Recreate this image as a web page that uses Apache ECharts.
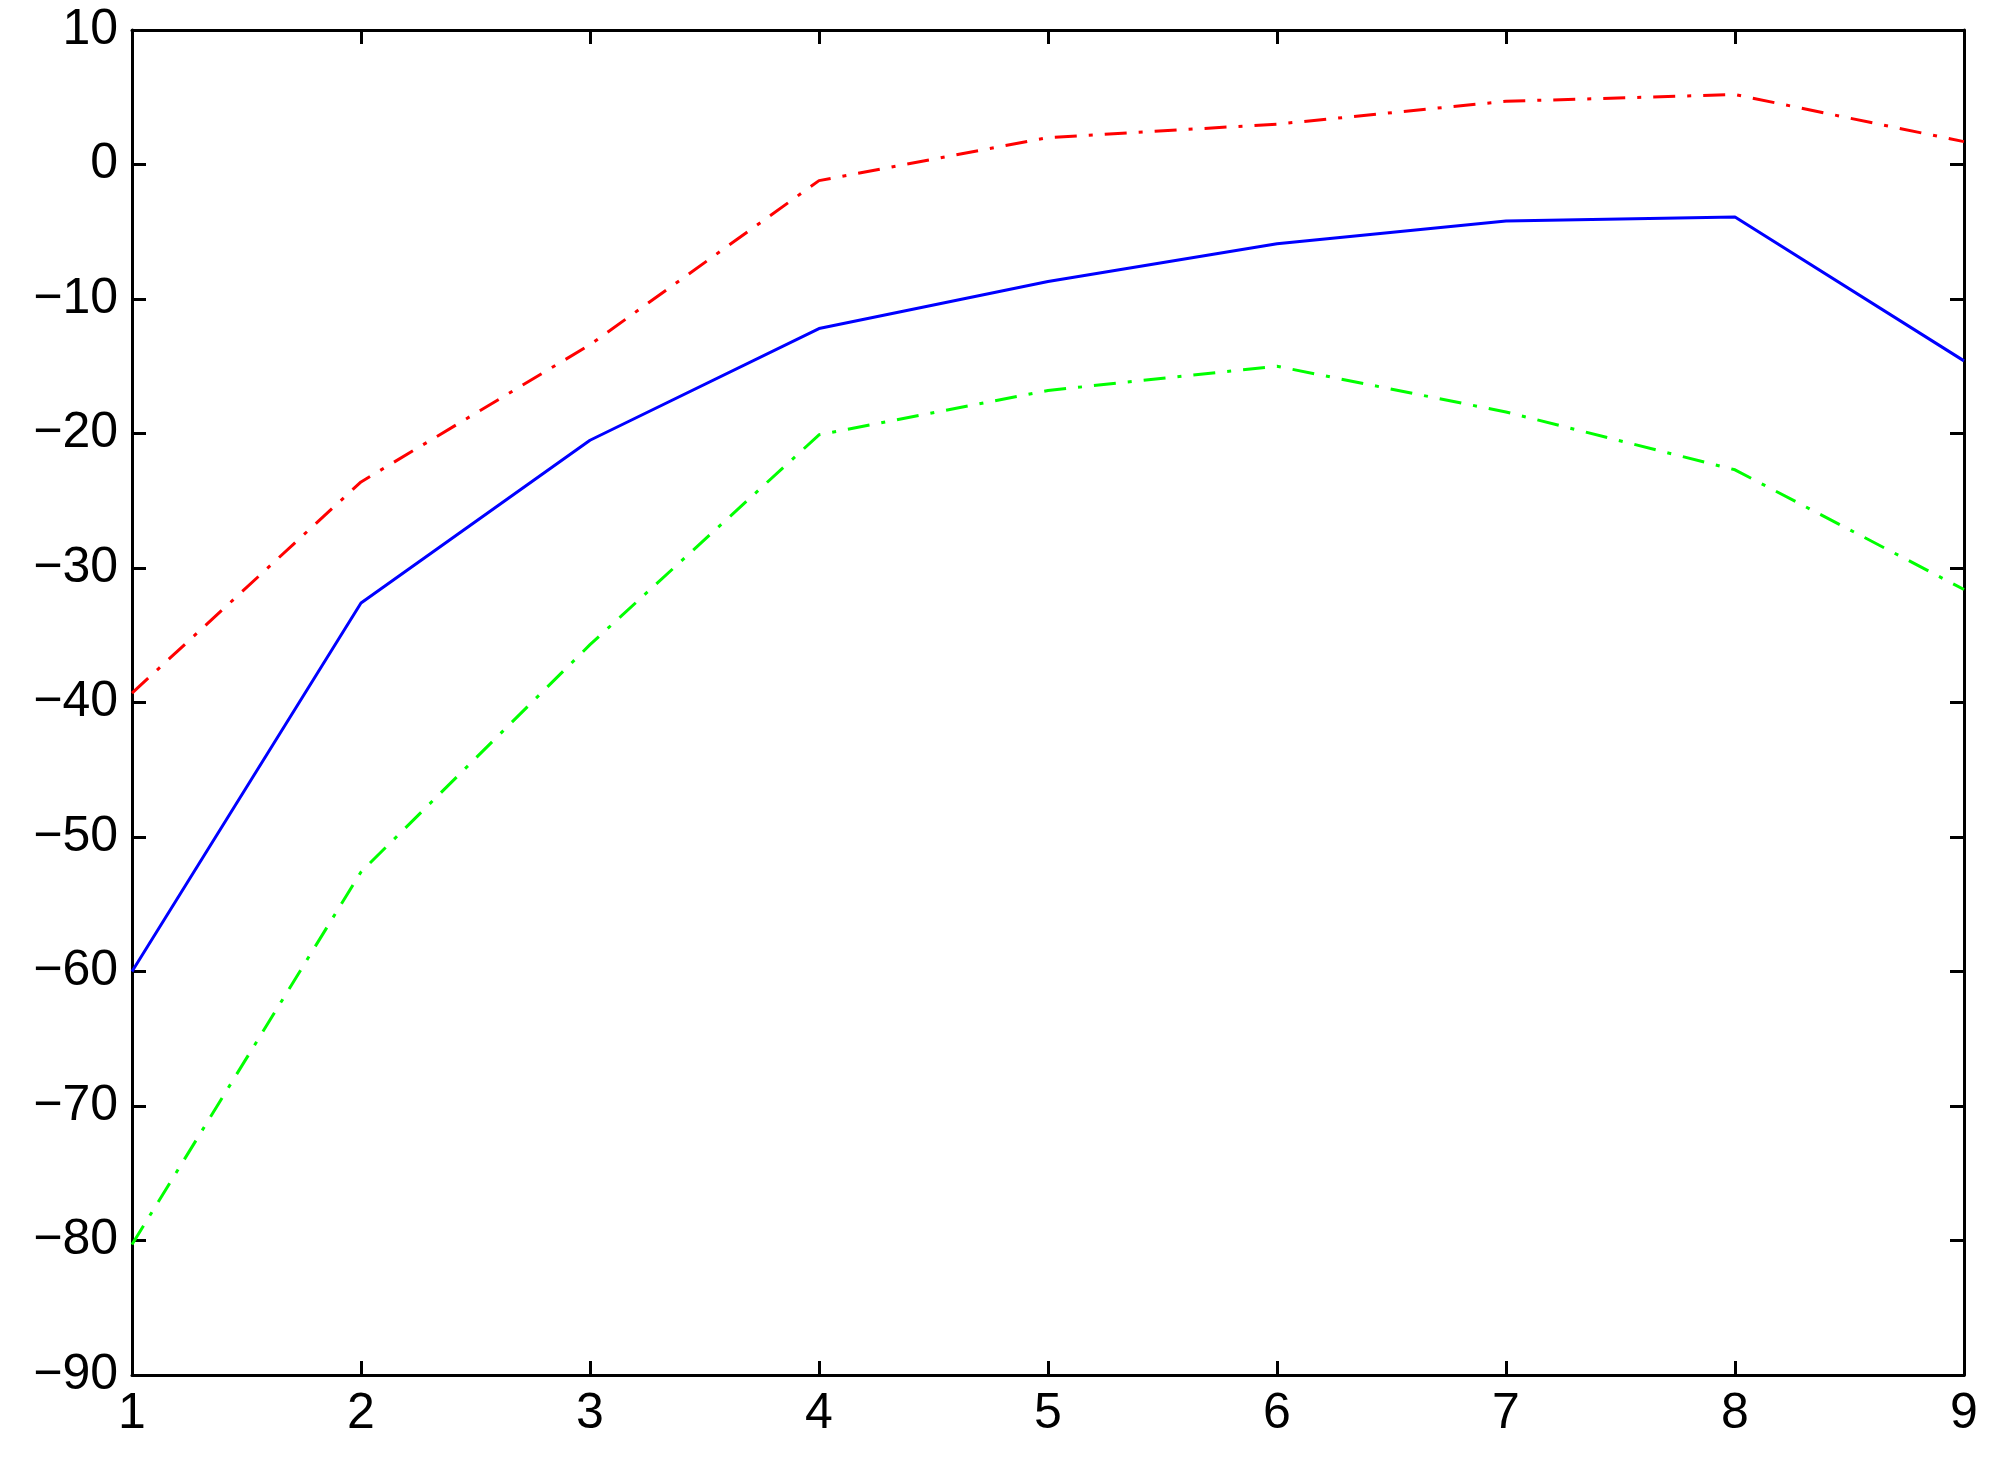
<!DOCTYPE html>
<html>
<head>
<meta charset="utf-8">
<script src="https://cdn.jsdelivr.net/npm/echarts@6/dist/echarts.min.js"></script>
<style>html,body{margin:0;padding:0;background:#fff}#chart{width:1990px;height:1458px}</style>
</head>
<body>
<div id="chart"></div>
<script>
var xValues = [1, 2, 3, 4, 5, 6, 7, 8, 9];
var blueLine = [-60, -32.6, -20.5, -12.2, -8.7, -5.9, -4.2, -3.9, -14.6];
var redLine = [-39.3, -23.6, -13.4, -1.2, 2.0, 3.0, 4.7, 5.2, 1.7];
var greenLine = [-80.3, -52.6, -35.7, -20.1, -16.8, -15.0, -18.4, -22.7, -31.6];

function pairs(ys) {
    return xValues.map(function (x, i) { return [x, ys[i]]; });
}
var dashDot = [22, 12, 4, 12];
var font = { color: '#000', fontSize: 50, fontFamily: 'Liberation Sans, Helvetica, Arial' };
function xAxis(show, pos) {
    return {
        type: 'value', min: 1, max: 9, interval: 1, position: pos,
        axisLine: { show: true, onZero: false, lineStyle: { color: '#000', width: 3 } },
        axisTick: { show: true, inside: true, length: 14, lineStyle: { color: '#000', width: 3 } },
        axisLabel: Object.assign({ show: show, margin: 14 }, font),
        splitLine: { show: false }
    };
}
function yAxis(show, pos) {
    return {
        type: 'value', min: -90, max: 10, interval: 10, position: pos,
        axisLine: { show: true, onZero: false, lineStyle: { color: '#000', width: 3 } },
        axisTick: { show: true, inside: true, length: 14, lineStyle: { color: '#000', width: 3 } },
        axisLabel: Object.assign({ show: show, margin: 14, formatter: function (v) { return String(v).replace('-', '\u2212'); } }, font),
        splitLine: { show: false }
    };
}
var chart = echarts.init(document.getElementById('chart'));
chart.setOption({
    backgroundColor: '#fff',
    animation: false,
    grid: { left: 132, right: 26, top: 30, bottom: 83 },
    xAxis: [xAxis(true, 'bottom'), xAxis(false, 'top')],
    yAxis: [yAxis(true, 'left'), yAxis(false, 'right')],
    series: [
        { type: 'line', data: pairs(redLine), showSymbol: false, lineStyle: { color: '#ff0000', width: 3, type: dashDot } },
        { type: 'line', data: pairs(blueLine), showSymbol: false, lineStyle: { color: '#0000ff', width: 3 } },
        { type: 'line', data: pairs(greenLine), showSymbol: false, lineStyle: { color: '#00ff00', width: 3, type: dashDot } }
    ]
});
</script>
</body>
</html>
